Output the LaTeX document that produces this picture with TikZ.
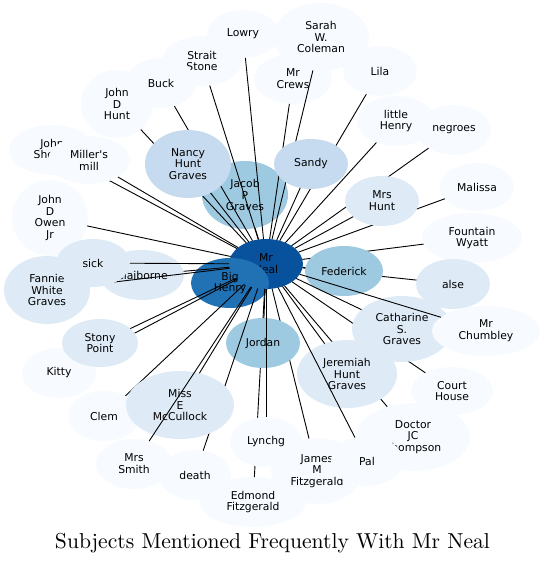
\documentclass[tikz,border=0pt]{standalone}
\usepackage{fontspec}
\usepackage{xcolor}
\usepackage{tikz}
\usetikzlibrary{shapes.geometric}
\newfontfamily\labelfont{DejaVu Sans}
\newfontfamily\titlefont{lmroman10-regular}[Extension=.otf]
\definecolor{blueA}{HTML}{F7FBFF}
\definecolor{blueB}{HTML}{DEEBF7}
\definecolor{blueC}{HTML}{C6DBEF}
\definecolor{blueD}{HTML}{9ECAE1}
\definecolor{blueE}{HTML}{2171B5}
\definecolor{blueF}{HTML}{08519C}

\begin{document}
\begin{tikzpicture}[x=1pt,y=-1pt]
        % style for the topic ellipses
        \tikzstyle{topic} = [
            ellipse,
            draw=none,
            inner sep=0pt,
            outer sep=0pt,
            align=center,
            text=black,
            font=\labelfont\fontsize{10.8}{11.8}\selectfont
        ]
        \tikzstyle{mention} = [draw=black, line width=0.9pt]

        \useasboundingbox (0,0) rectangle (546,564);

        % centre of the star
        \node[topic, fill=blueF, minimum width=74pt, minimum height=50pt] (mn) at (266,264) {Mr\\Neal};
        \node[topic, fill=blueE, minimum width=78pt, minimum height=50pt] (bh) at (230,283) {Big\\Henry};

        % every subject, drawn in order, with its link to Mr Neal
        \foreach \nm/\x/\y/\w/\h/\col/\txt in {
            jacob/245/195/86/68/blueD/{Jacob\\P\\Graves},
            lowry/243/34/72/48/blueA/Lowry,
            strait/202/61/80/50/blueA/{Strait\\Stone},
            buck/161/83/70/50/blueA/Buck,
            jdhunt/117/104/72/68/blueA/{John\\D\\Hunt},
            nancy/188/164/86/68/blueC/{Nancy\\Hunt\\Graves},
            crews/293/79/78/50/blueA/{Mr\\Crews},
            sarah/321/37/96/68/blueA/{Sarah\\W.\\Coleman},
            lila/380/71/74/50/blueA/Lila,
            sandy/311/164/74/50/blueC/Sandy,
            lhenry/396/121/78/50/blueA/{little\\Henry},
            negroes/454/130/74/50/blueA/negroes,
            malissa/477/187/74/48/blueA/Malissa,
            mrshunt/382/201/74/50/blueB/{Mrs\\Hunt},
            fountain/472/238/100/50/blueA/{Fountain\\Wyatt},
            alse/453/284/74/50/blueB/alse,
            federick/344/271/78/50/blueD/Federick,
            court/452/391/82/48/blueA/{Court\\House},
            catharine/402/329/100/66/blueB/{Catharine\\S.\\Graves},
            chumbley/486/331/108/50/blueA/{Mr\\Chumbley},
            doctor/413/437/114/68/blueA/{Doctor\\JC\\Thompson},
            jeremiah/347/374/100/68/blueB/{Jeremiah\\Hunt\\Graves},
            edmond/253/502/106/50/blueA/{Edmond\\Fitzgerald},
            james/317/471/92/66/blueA/{James\\M\\Fitzgerald},
            pal/367/461/72/50/blueA/Pal,
            jordan/263/343/74/50/blueD/Jordan,
            lynchg/266/442/72/50/blueA/Lynchg,
            death/195/475/72/50/blueA/death,
            clem/104/416/72/50/blueA/Clem,
            mccullock/180/405/108/68/blueB/{Miss\\E\\McCullock},
            smith/134/464/76/50/blueA/{Mrs\\Smith},
            kitty/59/373/74/50/blueA/Kitty,
            stony/100/343/76/48/blueB/{Stony\\Point},
            johnsh/52/150/86/50/blueA/{John\\Shelby},
            miller/89/160/82/48/blueA/{Miller's\\mill},
            owen/50/218/76/76/blueA/{John\\D\\Owen\\Jr},
            claiborne/142/275/84/50/blueB/Claiborne,
            fannie/47/290/86/68/blueB/{Fannie\\White\\Graves},
            sick/93/263/74/48/blueB/sick} {
            \node[topic, fill=\col, minimum width=\w pt, minimum height=\h pt] (\nm) at (\x,\y) {\txt};
            \draw[mention] (mn) -- (\nm);
        }

        % title
        \node[font=\titlefont\fontsize{21.6}{24}\selectfont, anchor=base] (title) at (272.5,548) {Subjects Mentioned Frequently With Mr Neal};
    \end{tikzpicture}
\end{document}
